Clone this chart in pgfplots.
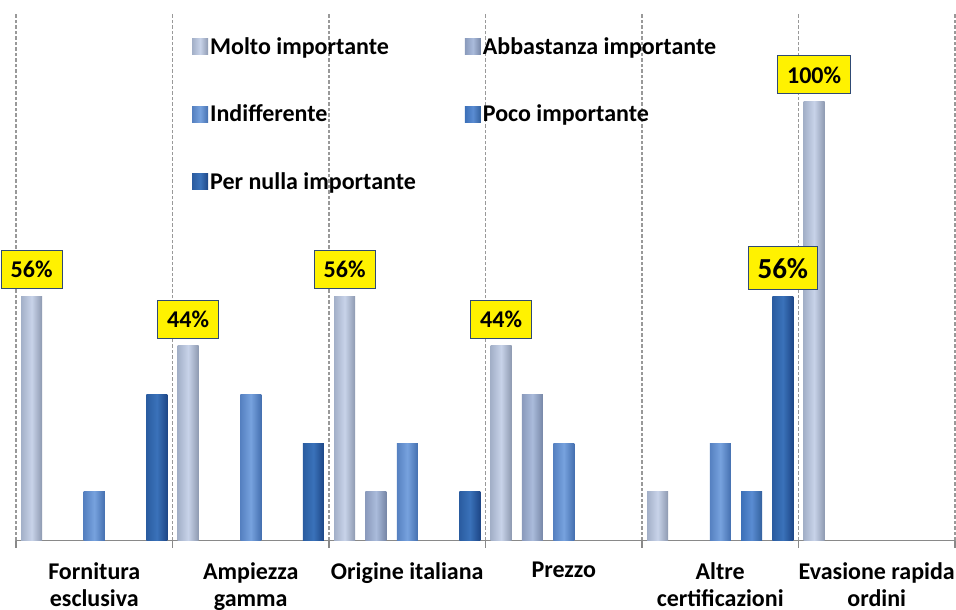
\documentclass[border=0pt]{standalone}
\usepackage{fontspec}
\setmainfont{Carlito}
\usepackage{pgfplots}
\pgfplotsset{compat=1.18}
\definecolor{gridgray}{HTML}{999999}
\definecolor{axgray}{HTML}{898989}
\definecolor{boxborder}{HTML}{2F4A74}
\definecolor{moltoL}{HTML}{A3B0C8}
\definecolor{moltoM}{HTML}{C8D3E9}
\definecolor{moltoR}{HTML}{8D99B0}
\definecolor{abbL}{HTML}{8A9ABC}
\definecolor{abbM}{HTML}{AABBDB}
\definecolor{abbR}{HTML}{7686A6}
\definecolor{indL}{HTML}{5580C0}
\definecolor{indM}{HTML}{77A2DE}
\definecolor{indR}{HTML}{4570B0}
\definecolor{pocoL}{HTML}{3C70B8}
\definecolor{pocoM}{HTML}{5A8CD2}
\definecolor{pocoR}{HTML}{33619E}
\definecolor{nullaL}{HTML}{2A5CA0}
\definecolor{nullaM}{HTML}{3A72BA}
\definecolor{nullaR}{HTML}{1D4686}
\newcommand{\bigf}{\fontsize{24bp}{27bp}\selectfont\bfseries}
\begin{document}
\begin{tikzpicture}
\begin{axis}[
  name=ax,
  scale only axis,
  width=939bp, height=527bp,
  xmin=-0.5, xmax=5.5,
  ymin=0, ymax=120,
  clip=false,
  axis x line=bottom,
  axis y line=none,
  x axis line style={-, draw=axgray, line width=1.5bp},
  xtick={0,1,2,3,4,5},
  xticklabels={{Fornitura\\esclusiva},{Ampiezza\\gamma},{Origine italiana},{Prezzo},{Altre\\certificazioni},{Evasione rapida\\ordini}},
  xticklabel style={align=center, font=\bigf, text=black, inner sep=0pt, yshift=-21.5bp},
  major tick length=0pt,
  minor xtick={-0.5,0.5,1.5,2.5,3.5,4.5,5.5},
  minor tick length=7bp,
  xtick align=outside,
  tick style={draw=axgray, line width=1.2bp},
  xminorgrids=true,
  minor x grid style={draw=gridgray, line width=1.1bp, dash pattern=on 3.5bp off 2bp},
  ytick=\empty,
  legend columns=2,
  legend cell align=left,
  legend style={draw=none, fill=none, inner sep=0pt, row sep=45bp, font=\bigf,
    at={(axis cs:0.6246,115)}, anchor=north west,
    nodes={inner sep=2bp},
    /tikz/every even column/.append style={column sep=47bp}},
  bb/.style={ybar, bar width=0.1342, draw=none,
    legend image code/.code={\path[##1, draw=none] (0bp,-8bp) rectangle (16bp,8bp);}},
  molto/.style={bb, bar shift=-0.4, left color=moltoL, right color=moltoR, middle color=moltoM},
  abb/.style={bb, bar shift=-0.2, left color=abbL, right color=abbR, middle color=abbM},
  ind/.style={bb, bar shift=0, left color=indL, right color=indR, middle color=indM},
  poco/.style={bb, bar shift=0.2, left color=pocoL, right color=pocoR, middle color=pocoM},
  nulla/.style={bb, bar shift=0.4, left color=nullaL, right color=nullaR, middle color=nullaM},
]
% Molto importante
\addplot[molto] coordinates {(0,55.6)};
\addlegendentry{Molto importante}
\addplot[molto, forget plot] coordinates {(1,44.4)};
\addplot[molto, forget plot] coordinates {(2,55.6)};
\addplot[molto, forget plot] coordinates {(3,44.4)};
\addplot[molto, forget plot] coordinates {(4,11.1)};
\addplot[molto, forget plot] coordinates {(5,100)};
% Abbastanza importante
\addplot[abb] coordinates {(2,11.1)};
\addlegendentry{Abbastanza importante}
\addplot[abb, forget plot] coordinates {(3,33.3)};
% Indifferente
\addplot[ind] coordinates {(0,11.1)};
\addlegendentry{Indifferente}
\addplot[ind, forget plot] coordinates {(1,33.3)};
\addplot[ind, forget plot] coordinates {(2,22.2)};
\addplot[ind, forget plot] coordinates {(3,22.2)};
\addplot[ind, forget plot] coordinates {(4,22.2)};
% Poco importante
\addplot[poco] coordinates {(4,11.1)};
\addlegendentry{Poco importante}
% Per nulla importante
\addplot[nulla] coordinates {(0,33.3)};
\addlegendentry{Per nulla importante}
\addplot[nulla, forget plot] coordinates {(1,22.2)};
\addplot[nulla, forget plot] coordinates {(2,11.1)};
\addplot[nulla, forget plot] coordinates {(4,55.6)};
% value labels
\addplot[draw=none, forget plot, nodes near coords, point meta=explicit symbolic,
  every node near coord/.append style={fill=yellow, draw=boxborder, line width=1bp,
    font=\bigf, text=black, inner xsep=9.5bp, inner ysep=0pt, minimum height=38bp,
    anchor=south, yshift=7bp}]
  coordinates {(-0.4,55.6)[56\%] (0.6,44.4)[44\%] (1.6,55.6)[56\%] (2.6,44.4)[44\%] (4.6,100)[100\%]};
\addplot[draw=none, forget plot, nodes near coords, point meta=explicit symbolic,
  every node near coord/.append style={fill=yellow, draw=boxborder, line width=1bp,
    font=\fontsize{29bp}{34bp}\selectfont\bfseries, text=black, inner xsep=9bp, inner ysep=0pt, minimum height=43bp,
    anchor=south, yshift=6bp}]
  coordinates {(4.4,55.6)[56\%]};
\end{axis}
\pgfresetboundingbox
\path[use as bounding box] ([shift={(-16bp,-69.5bp)}]ax.south west) rectangle ([shift={(940bp,540.5bp)}]ax.south west);
\end{tikzpicture}
\end{document}
